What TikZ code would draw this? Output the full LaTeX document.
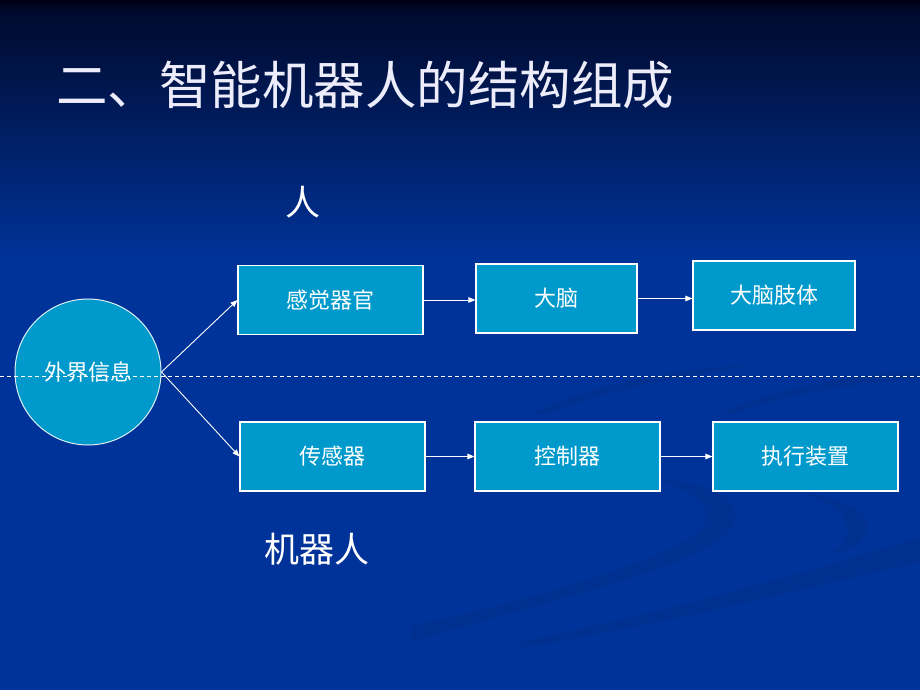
\documentclass[tikz,border=0pt]{standalone}
\usepackage{fontspec}
\newfontfamily\cjk{Noto Sans CJK SC}
\usetikzlibrary{arrows.meta,shapes.geometric}
\definecolor{bgblue}{HTML}{003399}
\definecolor{bgtop}{HTML}{000A2E}
\definecolor{bgdark}{HTML}{000014}
\definecolor{boxc}{HTML}{0099CC}
\definecolor{swoosh}{HTML}{002878}
\definecolor{titlec}{HTML}{ECECFA}
\tikzset{
  stagebox/.style={draw=white, fill=boxc, line width=1.1pt, minimum height=69pt, inner sep=0pt,
    text=white, font=\cjk\fontsize{22}{22}\selectfont},
  infocircle/.style={circle, draw=white!85!boxc, fill=boxc, line width=1pt, minimum size=146pt, inner sep=0pt,
    text=white, font=\cjk\fontsize{22}{22}\selectfont},
  flow/.style={draw=white, line width=0.9pt, -{Triangle[length=7pt,width=5.5pt]}},
  divider/.style={draw=white, line width=0.9pt, dash pattern=on 4pt off 3pt},
  bigword/.style={text=white, font=\cjk\fontsize{35}{35}\selectfont, inner sep=0pt},
  ribbon/.style={fill=swoosh, fill opacity=0.25}
}
\begin{document}
\begin{tikzpicture}[x=1pt,y=-1pt]
% background
\useasboundingbox (0,0) rectangle (920,690);
\fill[bgblue] (0,0) rectangle (920,690);
\shade[top color=bgtop, bottom color=bgblue] (0,12) rectangle (920,260);
\shade[top color=bgdark, bottom color=bgtop] (0,0) rectangle (920,12);
% background ribbons
\fill[ribbon] (411,642) .. controls (550,600) and (705,565) .. (730,530) .. controls (748,505) and (722,485) .. (655,478)
  .. controls (700,492) and (715,512) .. (700,530) .. controls (672,558) and (540,598) .. (411,626) -- cycle;
\fill[ribbon] (532,414) .. controls (580,388) and (660,370) .. (760,364) .. controls (670,378) and (600,392) .. (548,414) -- cycle;
\fill[ribbon] (720,414) .. controls (760,392) and (840,376) .. (920,370) -- (920,378) .. controls (850,384) and (770,398) .. (735,414) -- cycle;
\fill[ribbon] (800,492) .. controls (850,500) and (875,515) .. (865,535) .. controls (858,548) and (840,552) .. (828,555)
  .. controls (845,545) and (852,532) .. (845,520) .. controls (838,508) and (820,498) .. (800,492) -- cycle;
\fill[ribbon] (520,642) .. controls (650,615) and (800,575) .. (920,537) -- (920,562) .. controls (800,590) and (660,625) .. (520,648) -- cycle;
% title
\node[text=titlec, font=\cjk\fontsize{51.5}{51.5}\selectfont, inner sep=0pt] (title) at (365,85) {二、智能机器人的结构组成};
% labels
\node[bigword] (human) at (303,202) {人};
\node[bigword] (robot) at (317,549) {机器人};
% nodes
\node[infocircle] (info) at (88,372) {外界信息};
\node[stagebox, minimum width=185pt] (sense) at (330.5,300) {感觉器官};
\node[stagebox, minimum width=161pt] (brain) at (556.5,298.5) {大脑};
\node[stagebox, minimum width=162pt] (limb) at (774,295.5) {大脑肢体};
\node[stagebox, minimum width=185pt] (sensor) at (332.5,456.5) {传感器};
\node[stagebox, minimum width=185pt] (ctrl) at (567.5,456.5) {控制器};
\node[stagebox, minimum width=185pt] (act) at (805.5,456.5) {执行装置};
% divider
\coordinate (dl) at (0,376);
\coordinate (dr) at (920,376);
\draw[divider] (dl) -- (dr);
% connectors
\draw[flow] (info.east) -- (sense.west);
\draw[flow] (info.east) -- (sensor.west);
\draw[flow] (sense.east) -- (sense.east -| brain.west);
\draw[flow] (brain.east) -- (brain.east -| limb.west);
\draw[flow] (sensor.east) -- (ctrl.west);
\draw[flow] (ctrl.east) -- (act.west);
\end{tikzpicture}
\end{document}
